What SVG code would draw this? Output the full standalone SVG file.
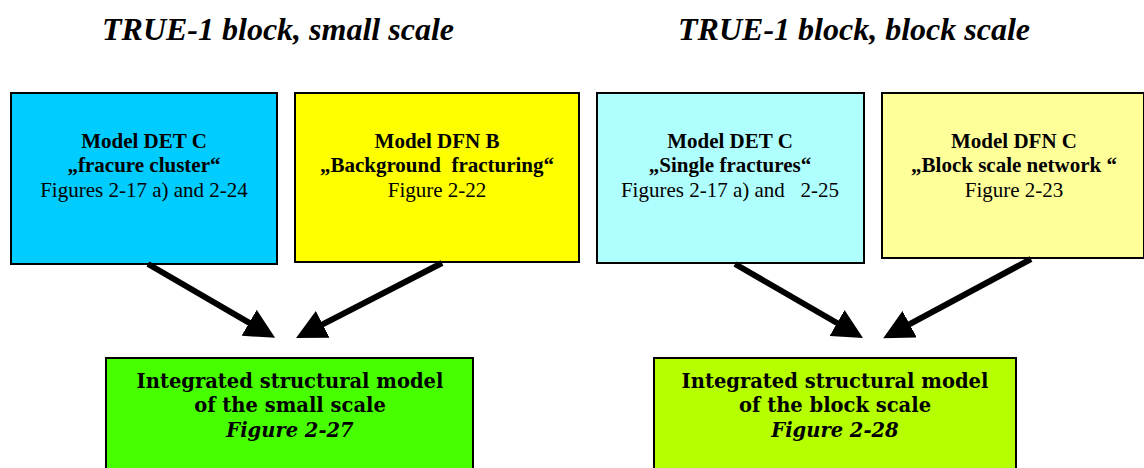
<svg xmlns="http://www.w3.org/2000/svg" width="1144" height="468" viewBox="0 0 1144 468">
<style>
.title{font-family:"Liberation Serif","Times New Roman",serif;font-weight:bold;font-style:italic;font-size:32px;fill:#000;text-anchor:middle}
.box{stroke:#000;stroke-width:2}
.t{font-family:"Liberation Serif","Times New Roman",serif;font-size:21px;fill:#000;text-anchor:middle;white-space:pre}
.b{font-weight:bold}
.g{font-family:"DejaVu Serif",serif;font-weight:bold;font-size:19.5px;fill:#000;text-anchor:middle}
.gi{font-style:italic}
.conn{stroke:#000;stroke-width:6;fill:none;marker-end:url(#ah)}
</style>
<defs>
<marker id="ah" markerUnits="userSpaceOnUse" markerWidth="30" markerHeight="30" viewBox="0 0 30 30" refX="10" refY="15" orient="auto">
<path d="M0,0 L30,15 L0,30 z" fill="#000"/>
</marker>
</defs>
<rect width="1144" height="468" fill="#fff"/>
<text class="title" x="278" y="40">TRUE-1 block, small scale</text>
<text class="title" x="854" y="40">TRUE-1 block, block scale</text>
<g id="det-c-cluster">
<rect class="box" x="11" y="93" width="266" height="171" fill="#00CCFF"/>
<text class="t b" x="144" y="148">Model DET C</text>
<text class="t b" x="144" y="172">„fracure cluster“</text>
<text class="t" x="144" y="197">Figures 2-17 a) and 2-24</text>
</g>
<g id="dfn-b">
<rect class="box" x="295" y="93" width="284" height="169" fill="#FFFF00"/>
<text class="t b" x="437" y="148">Model DFN B</text>
<text class="t b" x="437" y="172">„Background  fracturing“</text>
<text class="t" x="437" y="197">Figure 2-22</text>
</g>
<g id="det-c-single">
<rect class="box" x="597" y="93" width="267" height="170" fill="#B0FFFF"/>
<text class="t b" x="730" y="148">Model DET C</text>
<text class="t b" x="730" y="172">„Single fractures“</text>
<text class="t" x="730" y="197">Figures 2-17 a) and   2-25</text>
</g>
<g id="dfn-c">
<rect class="box" x="882" y="93" width="262" height="165" fill="#FFFF99"/>
<text class="t b" x="1014" y="148">Model DFN C</text>
<text class="t b" x="1014" y="172">„Block scale network “</text>
<text class="t" x="1014" y="197">Figure 2-23</text>
</g>
<g id="integrated-small">
<rect class="box" x="106" y="358" width="367" height="120" fill="#48FF00"/>
<text class="g" x="290" y="388">Integrated structural model</text>
<text class="g" x="290" y="412">of the small scale</text>
<text class="g gi" x="290" y="437">Figure 2-27</text>
</g>
<g id="integrated-block">
<rect class="box" x="654" y="358" width="362" height="120" fill="#B5FF00"/>
<text class="g" x="835" y="388">Integrated structural model</text>
<text class="g" x="835" y="412">of the block scale</text>
<text class="g gi" x="835" y="437">Figure 2-28</text>
</g>
<g id="connectors">
<line class="conn" x1="148" y1="264" x2="257.8" y2="327.8"/>
<line class="conn" x1="442" y1="263" x2="313.8" y2="328.9"/>
<line class="conn" x1="735" y1="264" x2="845.7" y2="328"/>
<line class="conn" x1="1031" y1="259" x2="900.8" y2="328.9"/>
</g>
</svg>
